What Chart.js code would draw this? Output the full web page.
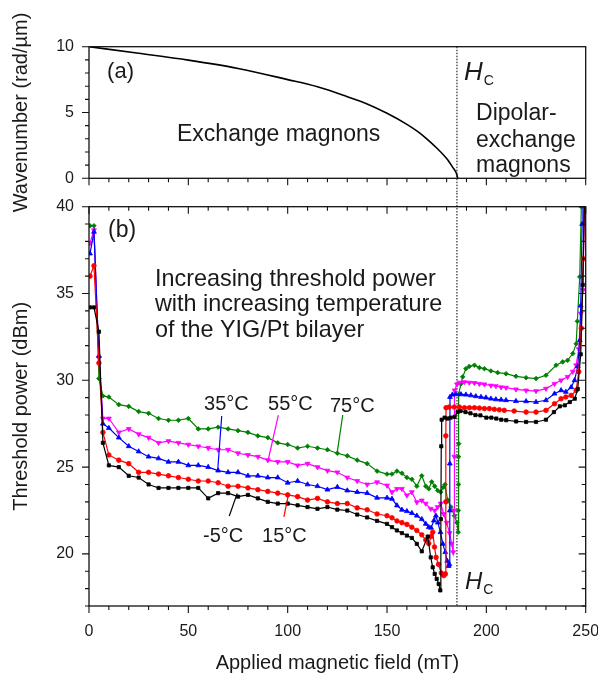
<!DOCTYPE html>
<html>
<head>
<meta charset="utf-8">
<script src="https://cdn.jsdelivr.net/npm/chart.js@4.4.1/dist/chart.umd.min.js"></script>
<style>
  html, body { margin: 0; padding: 0; background: #fff; }
  #wrap { position: relative; width: 598px; height: 673px; }
  canvas { position: absolute; left: 0; }
  #topChart { top: 0; }
  #bottomChart { top: 193px; }
</style>
</head>
<body>
<div id="wrap">
  <canvas id="topChart" width="598" height="240"></canvas>
  <canvas id="bottomChart" width="598" height="480"></canvas>
</div>
<script>
// (a) wavenumber of the exchange magnons vs field
const curveField = [0, 25, 50, 75, 100, 115, 130, 140, 150, 160, 165, 170, 175, 180, 183, 185, 185.6];
const curveK     = [10, 9.5, 8.98, 8.35, 7.5, 6.95, 6.2, 5.65, 4.94, 4.1, 3.6, 3.0, 2.3, 1.5, 0.85, 0.35, 0];

// (b) threshold power, low-field part shared by all temperatures
const lowField = [0.5, 2.5, 5, 7, 10, 15, 20, 25, 30, 35, 40, 45, 50, 55, 60, 65, 70, 75, 80, 85, 90, 95, 100, 105, 110, 115, 120];
const lowM5  = [34.2, 34.2, 32.8, 26.4, 25.1, 25.0, 24.5, 24.4, 24.0, 23.8, 23.8, 23.8, 23.8, 23.8, 23.2, 23.5, 23.5, 23.3, 23.4, 23.2, 23.0, 22.9, 22.9, 22.8, 22.7, 22.6, 22.7];
const low15  = [36.0, 36.6, 31.0, 27.0, 25.7, 25.4, 25.2, 24.7, 24.7, 24.6, 24.5, 24.4, 24.3, 24.2, 24.2, 24.1, 23.9, 23.9, 23.8, 23.7, 23.6, 23.5, 23.4, 23.3, 23.1, 23.2, 23.0];
const low35  = [37.3, 38.55, 31.4, 27.5, 27.25, 26.7, 26.2, 25.9, 25.6, 25.5, 25.3, 25.3, 25.1, 25.1, 25.0, 24.8, 24.7, 24.7, 24.5, 24.5, 24.4, 24.4, 24.1, 24.2, 24.0, 23.9, 23.7];
const low55  = [37.9, 38.65, 31.3, 27.8, 27.8, 27.0, 27.2, 26.9, 26.7, 26.4, 26.5, 26.4, 26.3, 26.2, 26.1, 26.0, 26.0, 25.8, 25.7, 25.6, 25.4, 25.3, 25.3, 25.1, 25.2, 25.0, 24.8];
const low75  = [38.9, 38.9, 30.1, 29.1, 29.04, 28.6, 28.5, 28.2, 28.1, 27.8, 27.7, 27.7, 27.8, 27.2, 27.2, 27.3, 27.2, 27.1, 27.0, 26.8, 26.7, 26.4, 26.3, 26.1, 26.2, 26.1, 26.0];

// high-field part, sampled more densely around the jump
const highFieldM5 = [125, 130, 135, 140, 145, 150, 152.5, 155, 157.5, 160, 162.5, 165, 167.5, 170.5, 172, 173, 174, 175, 176, 176.8, 177.1, 177.3, 177.5, 179, 180.5, 182, 184, 185.5, 187, 189.5, 192, 194.5, 197, 200, 202.5, 205, 207.5, 210, 215, 220, 225, 230, 234, 237, 239.5, 242, 244.5, 246, 247.5, 248.5, 249.5];
const highM5      = [22.55, 22.5, 22.27, 22.1, 21.9, 21.73, 21.54, 21.35, 21.2, 21.06, 20.92, 20.58, 20.15, 21.0, 19.8, 19.23, 18.85, 18.56, 18.27, 17.9, 22.0, 26.2, 27.73, 27.85, 27.8, 27.85, 27.9, 28.17, 28.23, 28.17, 28.1, 28.0, 27.98, 27.85, 27.85, 27.8, 27.73, 27.7, 27.63, 27.6, 27.6, 27.73, 28.17, 28.5, 28.56, 28.75, 28.94, 29.5, 31.5, 35.5, 41];

const highField15 = [125, 130, 135, 140, 145, 150, 152.5, 155, 157.5, 160, 162.5, 165, 167.5, 169.5, 171, 172.2, 173, 173.9, 174.7, 175.9, 177.3, 178.6, 179.4, 179.6, 179.6, 179.7, 181.3, 183.9, 186.4, 189, 191.5, 194, 196.5, 199, 201.5, 204, 206.5, 209, 214, 220, 225, 230, 234.3, 237.6, 240, 242.7, 245.2, 246.5, 247.8, 248.8, 249.6];
const high15      = [22.9, 22.9, 22.65, 22.54, 22.3, 22.2, 22.08, 21.9, 21.8, 21.7, 21.54, 21.35, 21.1, 20.8, 20.6, 21.0, 21.25, 20.4, 19.8, 19.4, 18.9, 18.75, 18.85, 23.0, 26.8, 28.42, 28.46, 28.46, 28.46, 28.42, 28.42, 28.42, 28.4, 28.37, 28.37, 28.33, 28.3, 28.27, 28.23, 28.17, 28.17, 28.27, 28.65, 28.94, 29.04, 29.13, 29.42, 30.5, 33.0, 37.0, 41];

const highField35 = [125, 130, 135, 140, 145, 150, 152.5, 155, 157.5, 160, 162.5, 165, 167.5, 169.5, 171, 172.2, 173.6, 174.6, 175.6, 176.9, 178.1, 179.3, 180.3, 181, 181.4, 181.6, 181.6, 181.7, 182.9, 184.6, 187.2, 189.7, 192.2, 194.7, 197.3, 199.8, 202.3, 204.8, 207.4, 209.9, 214.9, 220, 225, 230, 234.3, 237.6, 240, 242.7, 244.4, 246, 247, 247.5, 248.2, 248.6];
const high35      = [23.85, 23.65, 23.56, 23.5, 23.23, 23.23, 23.17, 22.79, 22.54, 22.46, 22.35, 22.2, 22.0, 21.73, 21.54, 21.5, 21.92, 22.2, 21.8, 21.25, 20.58, 20.1, 19.6, 19.3, 19.4, 22.5, 25.2, 29.04, 29.17, 29.19, 29.19, 29.17, 29.13, 29.08, 29.04, 29.0, 28.94, 28.9, 28.88, 28.85, 28.8, 28.79, 28.75, 28.85, 29.23, 29.42, 29.33, 29.6, 30.0, 30.8, 32.3, 34.3, 39, 41];

const highField55 = [125, 130, 135, 140, 145, 150, 152.5, 155, 157.5, 160, 162.5, 165, 167.5, 169.5, 172, 174, 175.5, 177, 178.5, 180, 181.5, 182.5, 183.3, 183.8, 183.9, 184, 185.2, 186.4, 188.9, 191.4, 194, 196.5, 199, 202.3, 204.8, 207.4, 209.9, 214.9, 220, 225, 230, 234.3, 237.6, 240.9, 243.5, 245.2, 246.5, 247.5, 248.7, 249.3];
const high55      = [24.7, 24.4, 24.2, 24.0, 24.13, 23.94, 23.56, 23.75, 23.75, 23.37, 23.56, 22.98, 23.08, 22.9, 22.6, 22.5, 22.7, 22.9, 22.3, 21.8, 21.2, 20.6, 20.1, 22.5, 25.6, 29.42, 29.77, 29.87, 29.9, 29.87, 29.85, 29.8, 29.77, 29.7, 29.67, 29.6, 29.58, 29.48, 29.42, 29.38, 29.52, 29.8, 30.0, 30.2, 30.5, 30.87, 31.8, 33.85, 35.2, 41];

const highField75 = [125, 130, 135, 140, 145, 150, 152.5, 155, 157.5, 160, 162.5, 165, 167.5, 169.5, 171, 172.5, 174, 175.5, 177, 178.5, 179.2, 180.5, 182.2, 183.9, 185.2, 185.8, 185.9, 186, 186, 186.1, 186.2, 187.2, 188.1, 189.7, 191.4, 194, 196.5, 199, 202.3, 205.7, 209.9, 214.9, 220, 225, 230, 235.1, 238.4, 240.9, 243.5, 245.2, 245.8, 247, 247.8, 248.1];
const high75      = [25.8, 25.65, 25.4, 25.2, 24.77, 24.6, 24.6, 24.77, 24.65, 24.4, 24.3, 23.9, 24.5, 23.9, 23.75, 24.15, 23.9, 23.65, 23.56, 23.85, 24.0, 23.1, 22.7, 22.2, 21.8, 21.25, 22.5, 24.0, 25.6, 26.35, 29.2, 29.8, 30.2, 30.67, 30.8, 30.87, 30.73, 30.67, 30.54, 30.44, 30.38, 30.23, 30.15, 30.1, 30.29, 30.87, 31.06, 31.15, 31.54, 32.1, 33.4, 35.96, 40, 41];

const HC = 185.2; // critical field, dotted line through both panels
const SPLIT_Y = 193; // where the lower canvas starts

const FONT = "'Liberation Sans', Arial, Helvetica, sans-serif";
const INK = '#1a1a1a';

function toPoints(xs, ys) {
  return xs.map((x, i) => ({ x: x, y: ys[i] }));
}

function series(label, color, style, lowY, highX, highY, rotation) {
  return {
    label: label,
    data: toPoints(lowField.concat(highX), lowY.concat(highY)),
    borderColor: color,
    backgroundColor: color,
    borderWidth: 1.2,
    pointStyle: style,
    pointRotation: rotation || 0,
    pointRadius: style === 'triangle' ? 2.8 : 2.3,
    pointBorderWidth: 0.8,
    tension: 0
  };
}

// box, minor/major ticks and the Hc line
const frameTicks = {
  id: 'frameTicks',
  beforeDatasetsDraw(chart, args, opts) {
    const { ctx, chartArea: a, scales: { x } } = chart;
    const px = x.getPixelForValue(HC);
    ctx.save();
    ctx.strokeStyle = '#000';
    ctx.lineWidth = 1;
    ctx.setLineDash([1.5, 1.5]);
    ctx.beginPath();
    if (opts.hcDown) {
      ctx.moveTo(px, a.top);
      ctx.lineTo(px, SPLIT_Y);
    } else {
      ctx.moveTo(px, 0);
      ctx.lineTo(px, a.bottom);
    }
    ctx.stroke();
    ctx.restore();
  },
  afterDraw(chart, args, opts) {
    const { ctx, chartArea: a, scales: { x, y } } = chart;
    ctx.save();
    ctx.strokeStyle = '#111';
    ctx.lineWidth = 1.3;
    ctx.strokeRect(a.left, a.top, a.right - a.left, a.bottom - a.top);
    ctx.lineWidth = 1.1;
    ctx.beginPath();
    for (let v = x.min; v <= x.max + 1e-6; v += opts.xMinor) {
      const px = x.getPixelForValue(v);
      const len = Math.abs(v % opts.xMajor) < 1e-6 ? 7 : 4;
      ctx.moveTo(px, a.bottom);
      ctx.lineTo(px, a.bottom + len);
      if (opts.mirror) {
        ctx.moveTo(px, a.top);
        ctx.lineTo(px, a.top + len);
      }
    }
    for (let v = y.min; v <= y.max + 1e-6; v += opts.yMinor) {
      const py = y.getPixelForValue(v);
      const len = Math.abs(v % opts.yMajor) < 1e-6 ? 7 : 4;
      ctx.moveTo(a.left, py);
      ctx.lineTo(a.left - len, py);
      if (opts.mirror) {
        ctx.moveTo(a.right, py);
        ctx.lineTo(a.right - len, py);
      }
    }
    ctx.stroke();
    ctx.restore();
  }
};

// text labels and leader lines, placed in data units
const notes = {
  id: 'notes',
  afterDatasetsDraw(chart, args, opts) {
    const { ctx, scales: { x, y } } = chart;
    ctx.save();
    (opts.leaders || []).forEach(l => {
      ctx.strokeStyle = l.color;
      ctx.lineWidth = 1.2;
      ctx.beginPath();
      ctx.moveTo(x.getPixelForValue(l.x1), y.getPixelForValue(l.y1));
      ctx.lineTo(x.getPixelForValue(l.x2), y.getPixelForValue(l.y2));
      ctx.stroke();
    });
    ctx.textBaseline = 'alphabetic';
    ctx.textAlign = 'left';
    (opts.texts || []).forEach(t => {
      ctx.fillStyle = INK;
      ctx.font = (t.italic ? 'italic ' : '') + t.size + 'px ' + FONT;
      const px = x.getPixelForValue(t.x);
      const py = y.getPixelForValue(t.y);
      ctx.fillText(t.text, px, py);
      if (t.sub) {
        const w = ctx.measureText(t.text).width;
        ctx.font = t.subSize + 'px ' + FONT;
        ctx.fillText(t.sub, px + w + 1, py + t.subDrop);
      }
    });
    ctx.restore();
  }
};

function yAxis(min, max, title) {
  return {
    type: 'linear',
    min: min,
    max: max,
    border: { display: false },
    grid: { display: false, drawTicks: false },
    ticks: {
      stepSize: 5,
      color: INK,
      padding: 15,
      font: { family: FONT, size: 16 },
      callback: v => (v % 5 === 0 ? String(v) : '')
    },
    title: {
      display: true,
      text: title,
      color: INK,
      padding: 0,
      font: { family: FONT, size: 20, lineHeight: 1 }
    },
    afterFit(scale) {
      scale.width = 78;
      scale.paddingTop = 0;
      scale.paddingBottom = 0;
    }
  };
}

new Chart(document.getElementById('topChart'), {
  type: 'line',
  data: {
    datasets: [{
      data: toPoints(curveField, curveK),
      borderColor: '#000',
      borderWidth: 1.6,
      pointRadius: 0,
      cubicInterpolationMode: 'monotone'
    }]
  },
  options: {
    responsive: false,
    animation: false,
    devicePixelRatio: 1,
    layout: { padding: { top: 46.7, right: 12.3, bottom: 61.7, left: 11 } },
    scales: {
      x: { type: 'linear', min: 0, max: 250, display: false },
      y: yAxis(0, 10, 'Wavenumber (rad/µm)')
    },
    plugins: {
      legend: { display: false },
      tooltip: { enabled: false },
      frameTicks: { xMinor: 10, xMajor: 50, yMinor: 1, yMajor: 5, mirror: false, hcDown: true },
      notes: {
        texts: [
          { text: '(a)', x: 9.1, y: 7.65, size: 22 },
          { text: 'Exchange magnons', x: 44.3, y: 2.83, size: 23 },
          { text: 'H', sub: 'C', x: 188.7, y: 7.46, size: 26, italic: true, subSize: 14, subDrop: 5 },
          { text: 'Dipolar-', x: 194.8, y: 4.4, size: 23 },
          { text: 'exchange', x: 194.8, y: 2.4, size: 23 },
          { text: 'magnons', x: 194.8, y: 0.48, size: 23 }
        ]
      }
    }
  },
  plugins: [frameTicks, notes]
});

new Chart(document.getElementById('bottomChart'), {
  type: 'line',
  data: {
    datasets: [
      series('-5°C', '#000000', 'rect', lowM5, highFieldM5, highM5),
      series('15°C', '#ff0000', 'circle', low15, highField15, high15),
      series('35°C', '#0000ff', 'triangle', low35, highField35, high35),
      series('55°C', '#ff00ff', 'triangle', low55, highField55, high55, 180),
      series('75°C', '#008000', 'rectRot', low75, highField75, high75)
    ]
  },
  options: {
    responsive: false,
    animation: false,
    devicePixelRatio: 1,
    layout: { padding: { top: 13.7, right: 12.3, bottom: 0, left: 11 } },
    scales: {
      x: {
        type: 'linear',
        min: 0,
        max: 250,
        border: { display: false },
        grid: { display: false, drawTicks: false },
        ticks: {
          stepSize: 50,
          color: INK,
          padding: 15.5,
          maxRotation: 0,
          font: { family: FONT, size: 16 }
        },
        title: {
          display: true,
          text: 'Applied magnetic field (mT)',
          color: INK,
          padding: 0,
          font: { family: FONT, size: 20, lineHeight: 1 }
        },
        afterFit(scale) {
          scale.height = 67;
          scale.paddingLeft = 0;
          scale.paddingRight = 0;
        }
      },
      y: yAxis(17, 40, 'Threshold power (dBm)')
    },
    plugins: {
      legend: { display: false },
      tooltip: { enabled: false },
      frameTicks: { xMinor: 10, xMajor: 50, yMinor: 1, yMajor: 5, mirror: true, hcDown: false },
      notes: {
        leaders: [
          { color: '#0000ff', x1: 66.8, y1: 27.94, x2: 64.8, y2: 24.83 },
          { color: '#ff00ff', x1: 95.3, y1: 28.0, x2: 90.2, y2: 25.41 },
          { color: '#008000', x1: 127.7, y1: 28.0, x2: 125.0, y2: 25.89 },
          { color: '#000000', x1: 70.6, y1: 22.18, x2: 74.6, y2: 23.49 },
          { color: '#ff0000', x1: 98.1, y1: 22.14, x2: 100.5, y2: 23.49 }
        ],
        texts: [
          { text: '(b)', x: 9.6, y: 38.25, size: 23 },
          { text: 'Increasing threshold power', x: 33.2, y: 35.43, size: 23.4 },
          { text: 'with increasing temperature', x: 33.2, y: 34.01, size: 23.4 },
          { text: 'of the YIG/Pt bilayer', x: 33.2, y: 32.51, size: 23.4 },
          { text: '35°C', x: 57.9, y: 28.29, size: 20 },
          { text: '55°C', x: 90.1, y: 28.29, size: 20 },
          { text: '75°C', x: 121.3, y: 28.17, size: 20 },
          { text: '-5°C', x: 57.4, y: 20.69, size: 20 },
          { text: '15°C', x: 87.1, y: 20.69, size: 20 },
          { text: 'H', sub: 'C', x: 189.2, y: 17.98, size: 24, italic: true, subSize: 14, subDrop: 5 }
        ]
      }
    }
  },
  plugins: [frameTicks, notes]
});
</script>
</body>
</html>
